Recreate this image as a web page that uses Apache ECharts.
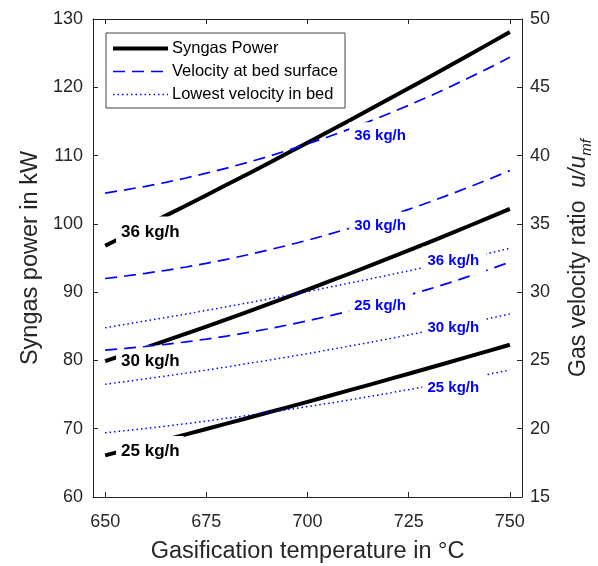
<!DOCTYPE html>
<html>
<head>
<meta charset="utf-8">
<script src="https://cdn.jsdelivr.net/npm/echarts@6/dist/echarts.min.js"></script>
<style>
html,body{margin:0;padding:0;background:#fff;}
#chart{width:598px;height:566px;}
</style>
</head>
<body>
<div id="chart"></div>
<script>
// ---- data ----
const temps = [650,655,660,665,670,675,680,685,690,695,700,705,710,715,720,725,730,735,740,745,750];
const xTicks = [650,675,700,725,750];

// Syngas power in kW (left axis)
const power25 = [66.10,66.86,67.63,68.40,69.17,69.95,70.74,71.53,72.33,73.13,73.94,74.75,75.57,76.39,77.22,78.05,78.89,79.74,80.59,81.44,82.30];
const power30 = [79.90,80.89,81.88,82.90,83.92,84.96,86.02,87.08,88.16,89.26,90.37,91.49,92.62,93.77,94.94,96.11,97.30,98.51,99.72,100.96,102.20];
const power36 = [96.80,98.26,99.73,101.21,102.70,104.20,105.72,107.24,108.78,110.33,111.89,113.46,115.04,116.63,118.24,119.85,121.48,123.12,124.77,126.43,128.10];

// Velocity at bed surface u/umf (right axis)
const surf25 = [25.76,25.88,26.02,26.18,26.36,26.56,26.78,27.03,27.30,27.59,27.90,28.23,28.59,28.96,29.36,29.78,30.22,30.68,31.17,31.67,32.20];
const surf30 = [31.00,31.18,31.38,31.60,31.84,32.11,32.40,32.72,33.06,33.42,33.80,34.21,34.64,35.09,35.56,36.06,36.58,37.13,37.70,38.29,38.90];
const surf36 = [37.25,37.49,37.75,38.04,38.36,38.71,39.08,39.48,39.91,40.37,40.85,41.36,41.90,42.47,43.06,43.68,44.33,45.01,45.71,46.44,47.20];

// Lowest velocity in bed u/umf (right axis)
const low25 = [19.70,19.86,20.02,20.19,20.37,20.56,20.76,20.96,21.17,21.39,21.62,21.85,22.09,22.34,22.60,22.86,23.13,23.41,23.70,24.00,24.30];
const low30 = [23.25,23.45,23.65,23.86,24.07,24.29,24.52,24.76,25.00,25.25,25.50,25.76,26.03,26.30,26.58,26.87,27.16,27.46,27.77,28.08,28.40];
const low36 = [27.40,27.64,27.89,28.14,28.40,28.66,28.93,29.20,29.48,29.76,30.05,30.34,30.64,30.94,31.25,31.56,31.88,32.20,32.53,32.86,33.20];

const feedLabels = ['25 kg/h','30 kg/h','36 kg/h'];
const legendNames = ['Syngas Power','Velocity at bed surface','Lowest velocity in bed'];

// ---- annotation anchors (data units) ----
const blackLabelAnchors = [[652.7,66.65],[652.7,79.90],[652.7,98.79]];
const surfLabelAnchors  = [[710.3,29.02],[710.3,34.87],[710.3,41.42]];
const lowLabelAnchors   = [[728.4,23.01],[728.4,27.40],[728.4,32.31]];

const FONT = '"Liberation Sans", Arial, Helvetica, sans-serif';
const AX = '#262626';
const BLUE = '#0000FF';

function pairs(xs, ys){ return xs.map((x,i)=>[x, ys[i]]); }

const series = [];
[power25, power30, power36].forEach(d => series.push({
  name: legendNames[0], type:'line', yAxisIndex:0, data: pairs(temps,d),
  symbol:'none', showSymbol:false, z:2, silent:true,
  lineStyle:{color:'#000', width:4, cap:'butt', join:'round'}, itemStyle:{color:'#000'}
}));
series.push({
  name:'blackLabels', type:'scatter', yAxisIndex:0, z:3, silent:true, symbolSize:0,
  itemStyle:{opacity:1},
  data: blackLabelAnchors.map((p,i)=>({value:p, name:feedLabels[i]})),
  label:{show:true, position:'right', distance:0, formatter:'{b}', color:'#000', opacity:1,
    fontFamily:FONT, fontSize:17, fontWeight:'bold', backgroundColor:'#fff', padding:[12,4,2,5]},
  emphasis:{disabled:true}
});
[surf25, surf30, surf36].forEach(d => series.push({
  name: legendNames[1], type:'line', yAxisIndex:1, data: pairs(temps,d),
  symbol:'none', showSymbol:false, z:4, silent:true,
  lineStyle:{color:BLUE, width:1.7, type:[12,7]}, itemStyle:{color:BLUE}
}));
[low25, low30, low36].forEach(d => series.push({
  name: legendNames[2], type:'line', yAxisIndex:1, data: pairs(temps,d),
  symbol:'none', showSymbol:false, z:4, silent:true,
  lineStyle:{color:BLUE, width:1.5, type:[1.5,3]}, itemStyle:{color:BLUE}
}));
series.push({
  name:'blueLabels', type:'scatter', yAxisIndex:1, z:5, silent:true, symbolSize:0,
  itemStyle:{opacity:1},
  data: surfLabelAnchors.concat(lowLabelAnchors).map((p,i)=>({value:p, name:feedLabels[i%3]})),
  label:{show:true, position:'right', distance:0, formatter:'{b}', color:BLUE, opacity:1,
    fontFamily:FONT, fontSize:15, fontWeight:'bold', backgroundColor:'#fff', padding:[11,7,2,5]},
  emphasis:{disabled:true}
});

const tickCommon = {show:true, inside:true, length:5, lineStyle:{color:AX, width:1}};
const lineCommon = {show:true, onZero:false, lineStyle:{color:AX, width:1}};

const option = {
  animation:false,
  backgroundColor:'#fff',
  textStyle:{fontFamily:FONT},
  grid:{left:93, right:76, top:19, bottom:69, containLabel:false, outerBoundsMode:'none'},
  legend:{
    data: legendNames, left:106, top:33, orient:'vertical',
    backgroundColor:'#fff', borderColor:'#444', borderWidth:1, borderRadius:0,
    padding:[7,7,5,5], itemWidth:55, itemHeight:14, itemGap:6, itemStyle:{opacity:0},
    lineStyle:{width:'inherit'},
    textStyle:{fontFamily:FONT, fontSize:16.5, color:'#000', padding:[0,0,0,-1]},
    selectedMode:false, z:20
  },
  xAxis:[
    {type:'value', position:'bottom', min:647, max:753,
     axisLine:lineCommon, axisTick:Object.assign({customValues:xTicks}, tickCommon),
     axisLabel:{customValues:xTicks, color:AX, fontSize:18, fontFamily:FONT, margin:16},
     splitLine:{show:false},
     name:'Gasification temperature in °C', nameLocation:'middle', nameGap:43,
     nameTextStyle:{fontSize:23.5, color:AX, fontFamily:FONT}},
    {type:'value', position:'top', min:647, max:753,
     axisLine:lineCommon, axisTick:Object.assign({customValues:xTicks}, tickCommon),
     axisLabel:{show:false}, splitLine:{show:false}}
  ],
  yAxis:[
    {type:'value', position:'left', min:60, max:130, interval:10,
     axisLine:lineCommon, axisTick:tickCommon,
     axisLabel:{color:AX, fontSize:18, fontFamily:FONT, margin:10},
     splitLine:{show:false},
     name:'Syngas power in kW', nameLocation:'middle', nameGap:50,
     nameTextStyle:{fontSize:23.5, color:AX, fontFamily:FONT}},
    {type:'value', position:'right', min:15, max:50, interval:5,
     axisLine:lineCommon, axisTick:tickCommon,
     axisLabel:{color:AX, fontSize:18, fontFamily:FONT, margin:8},
     splitLine:{show:false},
     name:'{n|Gas velocity ratio  }{i|u/u}{s|mf}', nameLocation:'middle', nameGap:42,
     nameTextStyle:{color:AX, fontFamily:FONT, fontSize:23,
       rich:{
         n:{fontSize:23, fontFamily:FONT, color:AX, lineHeight:30, verticalAlign:'middle'},
         i:{fontSize:23, fontFamily:FONT, color:AX, fontStyle:'italic', lineHeight:30, verticalAlign:'middle'},
         s:{fontSize:15, fontFamily:FONT, color:AX, fontStyle:'italic', lineHeight:14, verticalAlign:'bottom'}
       }}}
  ],
  series: series
};

const chart = echarts.init(document.getElementById('chart'), null, {renderer:'canvas'});
chart.setOption(option);
</script>
</body>
</html>
